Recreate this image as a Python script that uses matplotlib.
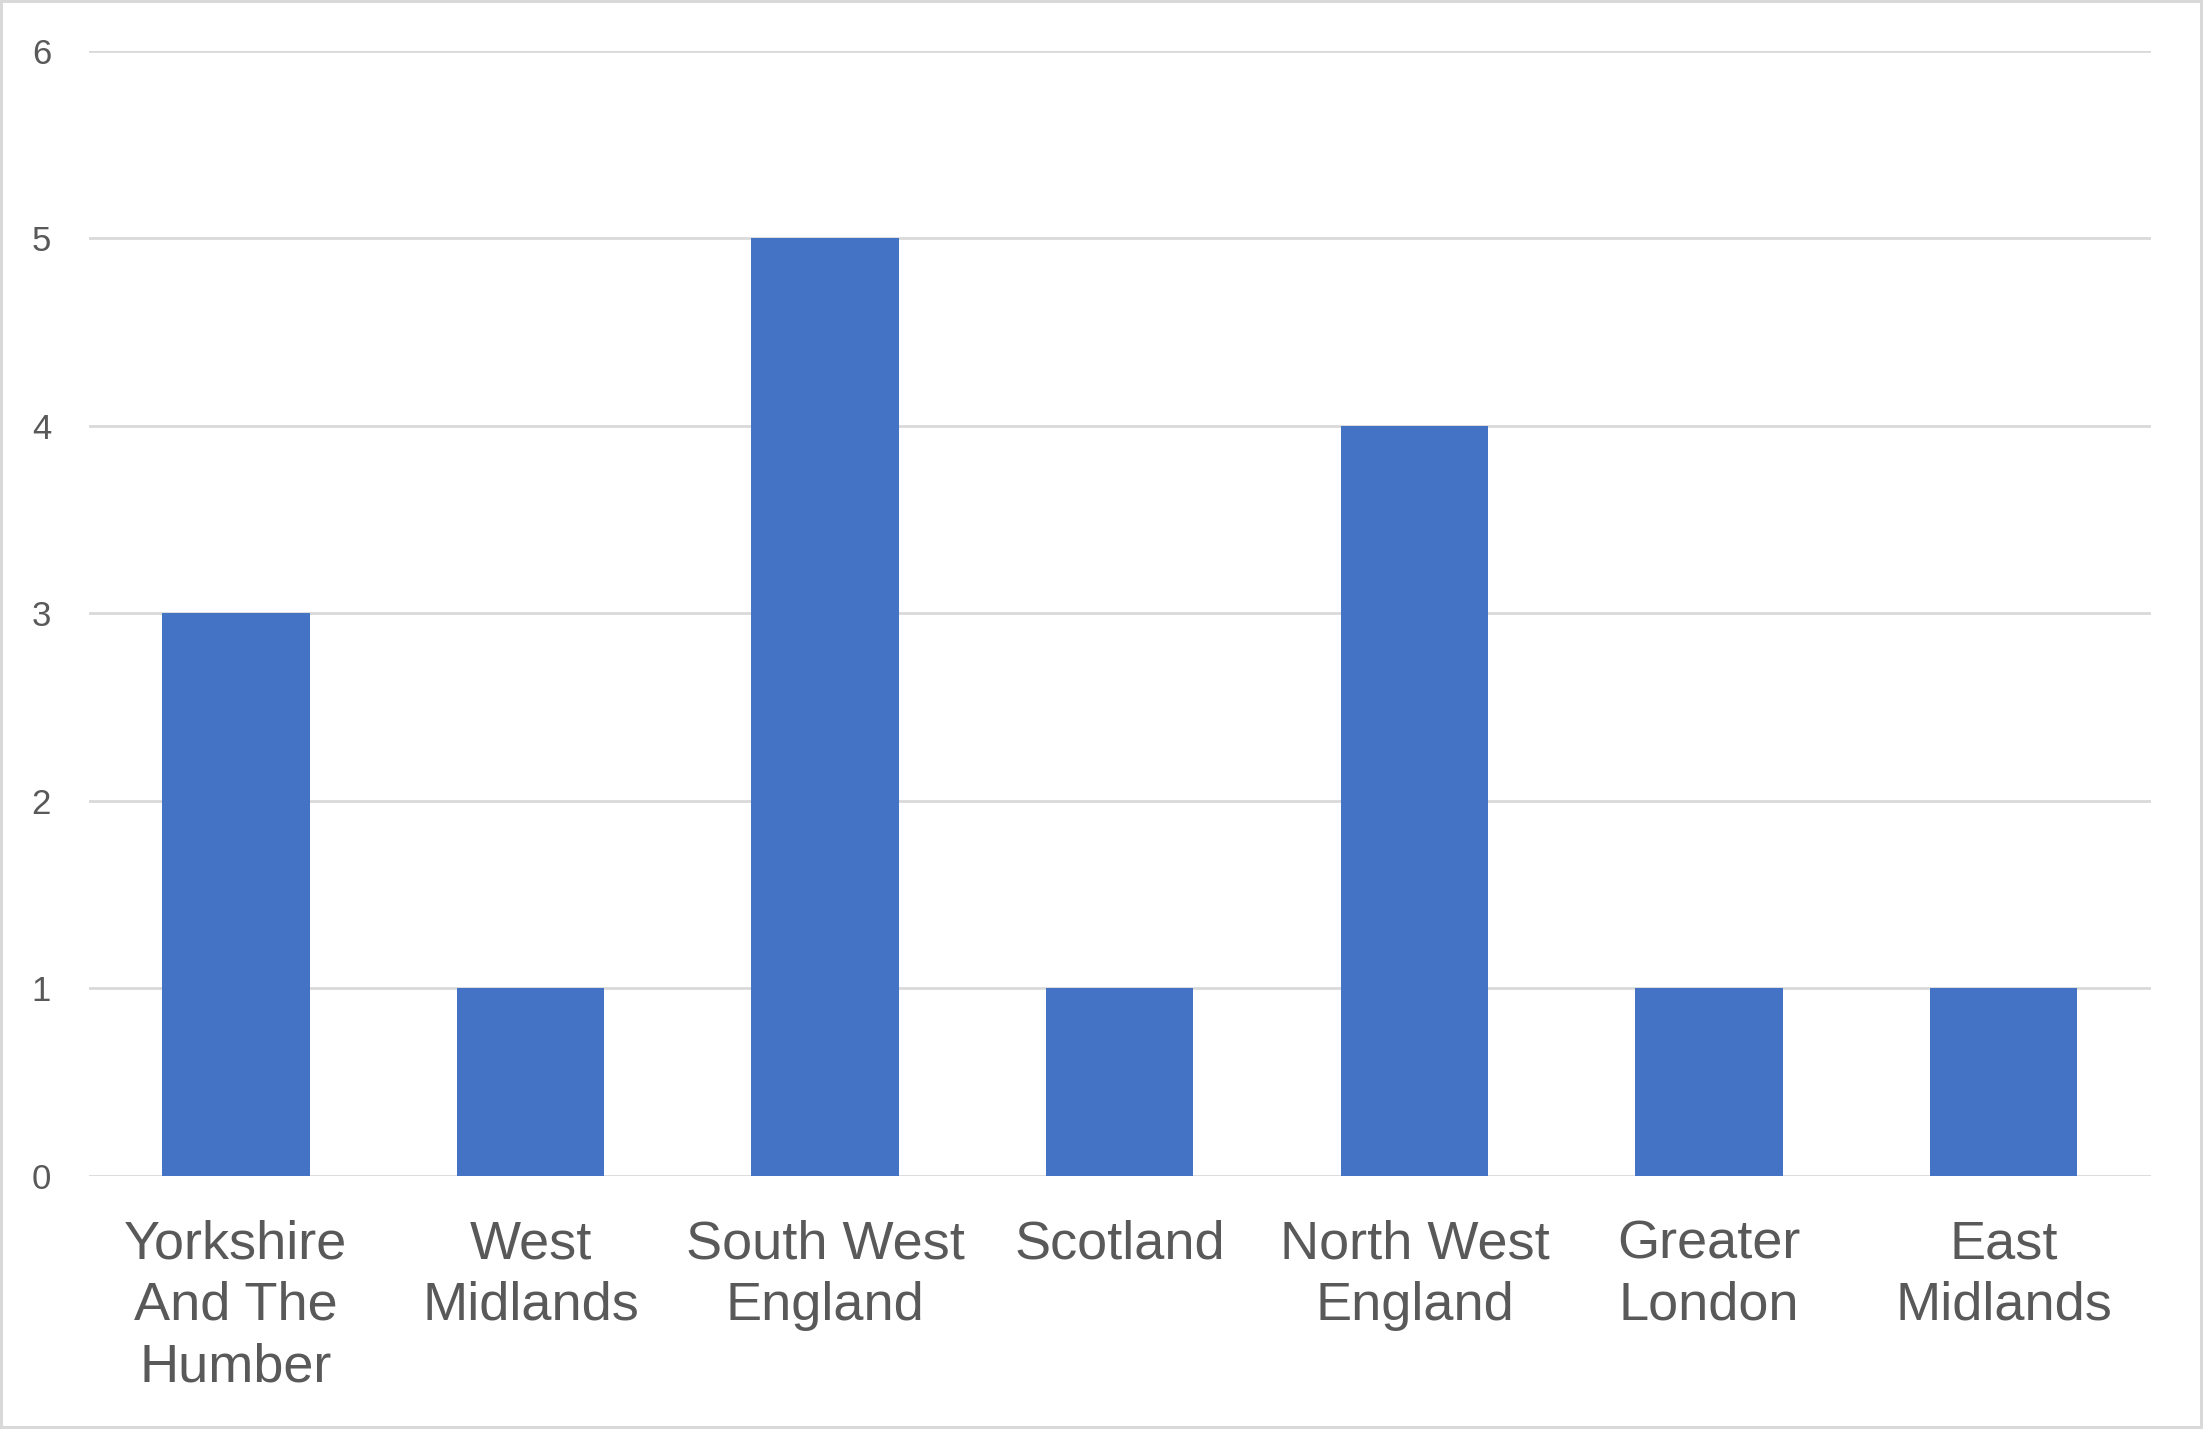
import matplotlib
matplotlib.use("Agg")
from matplotlib import pyplot as plt

regiones = ["Yorkshire\nAnd The\nHumber", "West\nMidlands", "South West\nEngland",
            "Scotland", "North West\nEngland", "Greater\nLondon", "East\nMidlands"]
valores = [3, 1, 5, 1, 4, 1, 1]
yticks = [0, 1, 2, 3, 4, 5, 6]

plt.rcParams['font.family'] = ['Liberation Sans', 'DejaVu Sans']

fig = plt.figure(figsize=(22.03, 14.29), dpi=100)
fig.patch.set_edgecolor('#D9D9D9')
fig.patch.set_linewidth(3)
ax = fig.add_axes([0.0402, 0.177, 0.9362, 0.7876])

x = range(len(regiones))
ax.bar(x, valores, width=0.5, color='#4472C4', zorder=3)

ax.set_xlim(-0.5, len(regiones) - 0.5)
ax.set_ylim(0, 6)
ax.set_yticks(yticks)
ax.set_xticks(list(x))
ax.set_xticklabels(regiones, fontsize=39, color='#595959', linespacing=1.3)
ax.tick_params(axis='y', labelsize=25, colors='#595959', length=0, pad=27)
ax.tick_params(axis='x', length=0, pad=31)

ax.grid(axis='y', color='#D9D9D9', linewidth=2.0, zorder=0)
for s in ax.spines.values():
    s.set_visible(False)

fig.savefig('out.png', dpi=100)
